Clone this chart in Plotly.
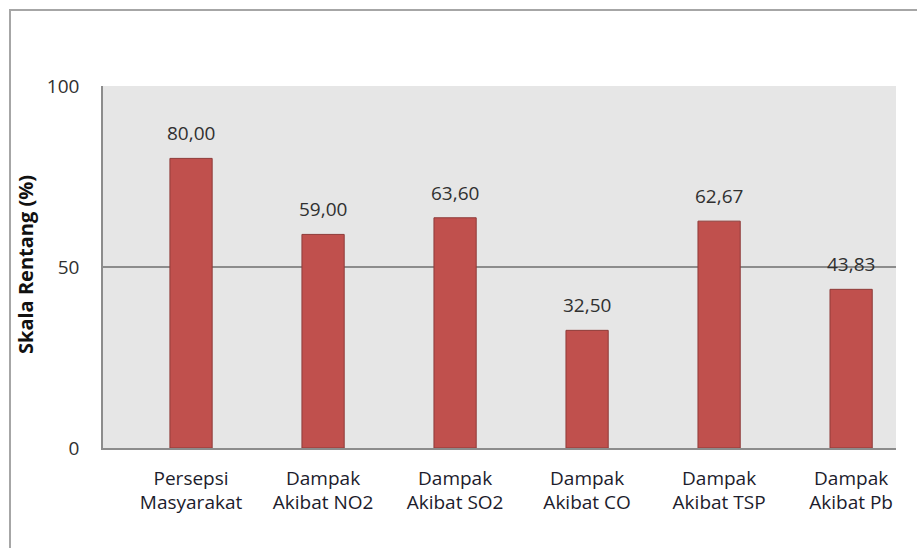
import plotly.graph_objects as go

categories = ["Persepsi<br>Masyarakat", "Dampak<br>Akibat NO2", "Dampak<br>Akibat SO2",
              "Dampak<br>Akibat CO", "Dampak<br>Akibat TSP", "Dampak<br>Akibat Pb"]
values = [80.00, 59.00, 63.60, 32.50, 62.67, 43.83]
value_labels = ["80,00", "59,00", "63,60", "32,50", "62,67", "43,83"]
y_ticks = [0, 50, 100]
y_title = "Skala Rentang (%)"

W, H = 917, 548
L, R, T, B = 103, 21, 86, 100
pw, ph = W - L - R, H - T - B

font_main = "Open Sans, Lato, sans-serif"

fig = go.Figure()
fig.add_trace(go.Bar(
    x=categories, y=values, width=0.32,
    marker=dict(color="#c0504d", line=dict(color="#8e3b39", width=1)),
    hoverinfo="skip",
))

for c, v, t in zip(categories, values, value_labels):
    fig.add_annotation(x=c, y=v, text=t, showarrow=False, yanchor="middle",
                       yshift=25, font=dict(family=font_main, size=19, color="#303030"))

fig.add_annotation(xref="paper", yref="paper", x=(25 - L) / pw, y=(H - B - 265) / ph,
                   text="<b>" + y_title + "</b>", textangle=-90, showarrow=False,
                   xanchor="center", yanchor="middle",
                   font=dict(family="Liberation Sans Narrow, Open Sans, sans-serif", size=20, color="#111111"))

# outer chart border (only top and left visible in the crop)
fig.add_shape(type="rect", xref="paper", yref="paper",
              x0=(10 - L) / pw, y0=(H - B - 600) / ph,
              x1=(1000 - L) / pw, y1=(H - B - 10) / ph,
              line=dict(color="#a6a6a6", width=2), fillcolor="rgba(0,0,0,0)", layer="below")

fig.update_layout(
    width=W, height=H,
    margin=dict(l=L, r=R, t=T, b=B, pad=0),
    paper_bgcolor="white", plot_bgcolor="#e6e6e6",
    showlegend=False,
    font=dict(family=font_main, color="#303030"),
    xaxis=dict(type="category", range=[-0.667, 5.34], showgrid=False,
               showline=True, linecolor="#8c8c8c", linewidth=1.5,
               ticks="", tickfont=dict(size=19, color="#1c1c2c"),
               ticklabelstandoff=12, fixedrange=True),
    yaxis=dict(range=[0, 100], tickvals=y_ticks, ticktext=[str(v) for v in y_ticks],
               showgrid=True, gridcolor="#8c8c8c", gridwidth=1.5,
               showline=True, linecolor="#8c8c8c", linewidth=1.5,
               zeroline=False, ticks="", tickfont=dict(size=19, color="#303030"),
               ticklabelstandoff=18, fixedrange=True),
)

fig.write_html("out.html")
